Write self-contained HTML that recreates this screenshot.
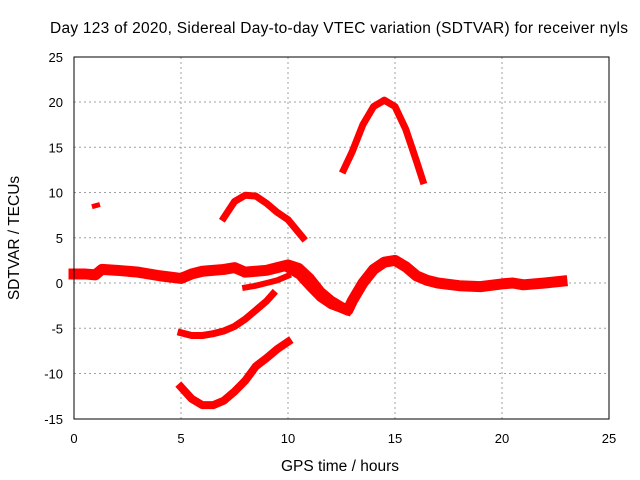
<!DOCTYPE html>
<html><head><meta charset="utf-8"><style>
body{margin:0;background:#fff}
svg{display:block;font-family:"Liberation Sans",sans-serif}
</style></head><body>
<svg id="c" width="640" height="480">
<text x="339" y="33" font-size="15.5" text-anchor="middle" textLength="578">Day 123 of 2020, Sidereal Day-to-day VTEC variation (SDTVAR) for receiver nyls</text>
<text x="340" y="471" font-size="15.5" text-anchor="middle">GPS time / hours</text>
<text x="19" y="238" font-size="15.5" text-anchor="middle" transform="rotate(-90 19 238)">SDTVAR / TECUs</text>
<g id="grid"></g><g id="series"></g>
<rect x="74" y="57" width="535" height="362" fill="none" stroke="#000" stroke-width="1"/>
</svg>
<script>
const xTicks=[0,5,10,15,20,25];
const yTicks=[-15,-10,-5,0,5,10,15,20,25];
const baseline=[[0,1],[0.5,1],[1,0.9],[1.3,1.5],[2,1.4],[3,1.2],[4,0.8],[5,0.5],[5.5,1],[6,1.3],[7,1.5],[7.5,1.7],[8,1.2],[8.5,1.3],[9,1.4],[9.5,1.7],[10,2],[10.5,1.6],[11,0.5],[11.5,-1],[12,-2],[12.5,-2.7],[12.8,-3],[13,-2],[13.5,0],[14,1.5],[14.5,2.3],[15,2.5],[15.5,1.8],[16,0.8],[16.5,0.3],[17,0],[18,-0.3],[19,-0.4],[20,-0.1],[20.5,0],[21,-0.2],[22,0],[22.8,0.2]];
const branch=[[10,1.5],[10.5,0.8],[11,-0.5],[11.5,-1.7],[12,-2.5],[12.8,-3.2]];
const dot=[[0.95,8.5],[1.1,8.6]];
const arcA=[[7,7.2],[7.5,9],[8,9.7],[8.5,9.6],[9,8.8],[9.5,7.8],[10,7],[10.7,5]];
const arcB=[[12.6,12.5],[13,14.5],[13.5,17.5],[14,19.5],[14.5,20.2],[15,19.5],[15.5,17],[16,13.5],[16.3,11.3]];
const lineC=[[8,-0.5],[8.5,-0.3],[9,0],[9.5,0.3],[10,0.8]];
const lineD=[[5,-5.5],[5.5,-5.8],[6,-5.8],[6.5,-5.6],[7,-5.3],[7.5,-4.8],[8,-4],[8.5,-3],[9,-2],[9.3,-1.2]];
const lineE=[[5,-11.5],[5.5,-12.8],[6,-13.5],[6.5,-13.5],[7,-13],[7.5,-12],[8,-10.8],[8.5,-9.2],[9,-8.3],[9.5,-7.3],[10,-6.5]];
const NS="http://www.w3.org/2000/svg";
const X=v=>74+v*535/25, Y=v=>283-v*362/40;
const grid=document.getElementById('grid'),ser=document.getElementById('series'),svg=document.getElementById('c');
function mk(t,a,p){const e=document.createElementNS(NS,t);for(const k in a)e.setAttribute(k,a[k]);p.appendChild(e);return e;}
xTicks.forEach(v=>{
 if(v>0&&v<25){const l=mk('line',{x1:X(v),x2:X(v),y1:57,y2:419,stroke:'#a0a0a0','stroke-dasharray':'2,3'},grid);
 
 }
 const t=mk('text',{x:X(v),y:443,'font-size':13,'text-anchor':'middle'},svg);t.textContent=v;
 
 
});
yTicks.forEach(v=>{
 if(v>-15&&v<25){const l=mk('line',{x1:74,x2:609,y1:Y(v),y2:Y(v),stroke:'#a0a0a0','stroke-dasharray':'2,3'},grid);
 
 }
 const t=mk('text',{x:63,y:Y(v)+5,'font-size':13,'text-anchor':'end'},svg);t.textContent=v;
 
 
});
function draw(d,w,name){
 const p=mk('polyline',{points:d.map(q=>X(q[0])+','+Y(q[1])).join(' '),fill:'none',stroke:'#ff0000','stroke-width':w,'stroke-linejoin':'round','stroke-linecap':'square'},ser);
 
 
}
draw(baseline,11,'series-baseline');draw(branch,7,'series-branch');draw(dot,5,'series-dot');
draw(arcA,7,'series-arc-a');draw(arcB,7,'series-arc-b');draw(lineC,6,'series-line-c');
draw(lineD,7,'series-line-d');draw(lineE,8,'series-line-e');
</script>
</body></html>
